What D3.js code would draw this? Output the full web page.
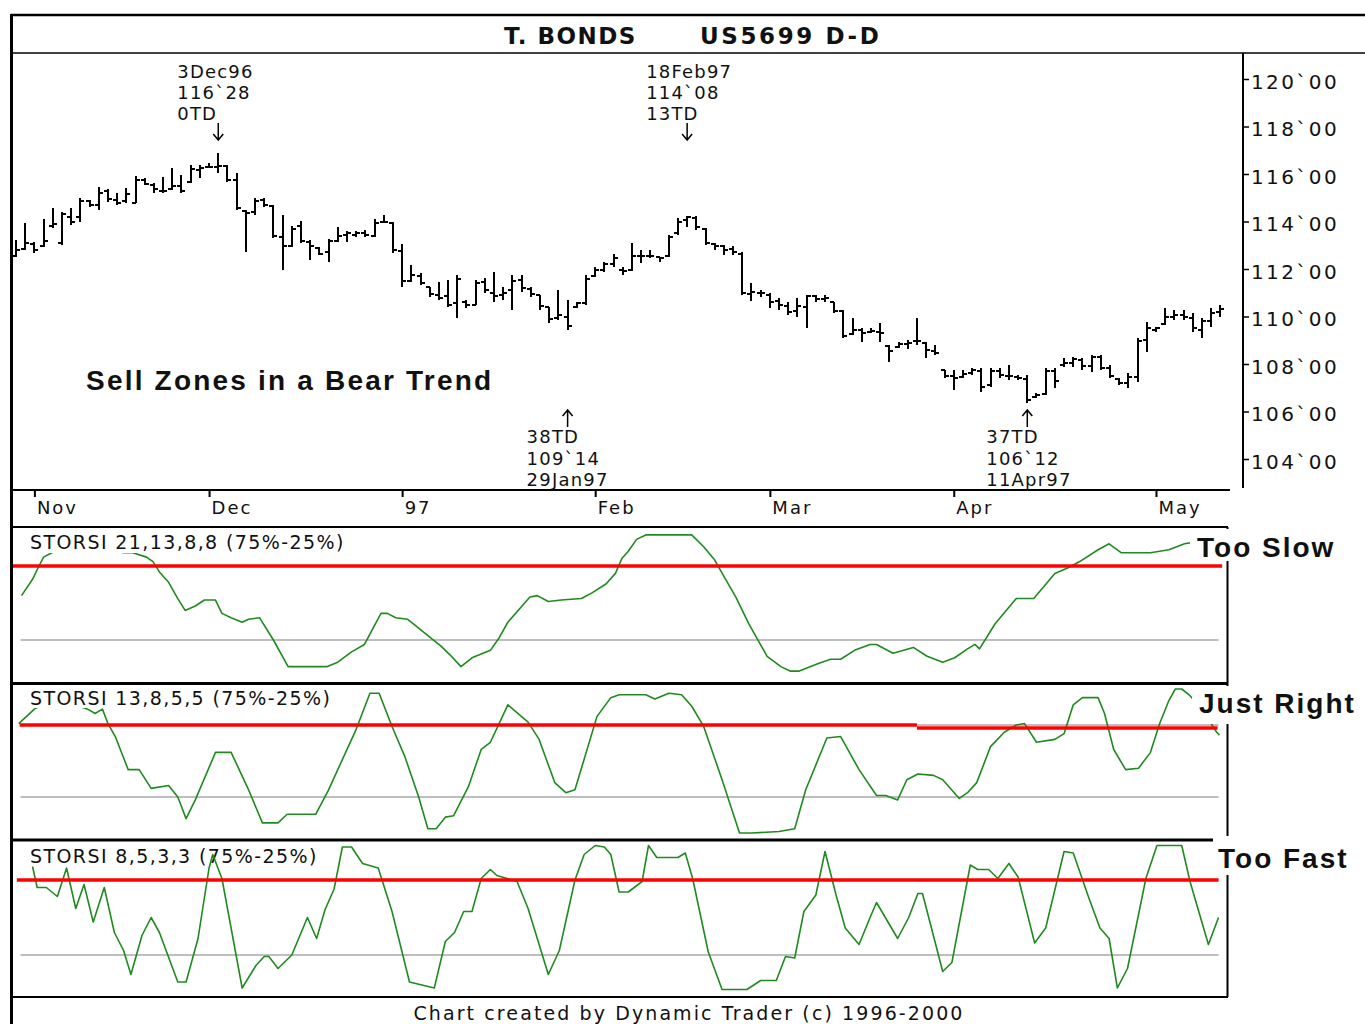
<!DOCTYPE html>
<html><head><meta charset="utf-8">
<script src="https://cdn.jsdelivr.net/npm/d3@7"></script>
<style>body{margin:0;background:#fff}svg{display:block}</style>
</head><body>
<svg id="c" width="1365" height="1024"></svg>
<script>
// ---------- DATA ----------
const barOpen  = [112.55,112.85,113.05,112.95,113.80,113.10,114.20,114.20,114.85,114.70,115.30,114.90,114.85,114.80,115.75,115.55,115.30,115.35,115.50,115.65,116.15,116.30,116.30,116.35,115.75,114.45,114.40,114.90,114.65,113.35,112.95,113.80,113.15,112.90,112.70,113.20,113.45,113.45,113.50,113.40,114.00,113.95,112.75,111.50,111.70,111.25,110.90,110.85,110.55,110.60,110.50,111.45,111.00,110.90,111.10,111.55,111.15,110.90,110.40,109.95,110.00,110.40,110.55,111.70,111.95,112.20,111.95,111.95,112.55,112.55,112.50,112.55,113.50,114.05,114.15,113.70,113.05,112.95,112.85,112.65,110.95,111.00,110.90,110.65,110.45,110.25,110.40,110.85,110.75,110.60,110.25,109.25,109.45,109.35,109.35,108.75,108.70,108.85,108.95,108.90,108.55,107.75,107.50,107.45,107.62,107.70,107.10,107.70,107.50,107.45,107.35,106.60,106.75,107.70,107.95,108.05,108.15,107.90,108.30,107.85,107.35,107.20,107.45,109.00,109.45,109.70,110.00,110.05,109.95,109.45,109.80,110.20];
const barHigh  = [113.22,113.95,113.15,114.09,114.55,114.41,114.55,114.97,114.90,115.47,115.35,115.18,115.40,115.91,115.82,115.61,115.89,116.24,115.96,116.38,116.38,116.45,116.875,116.38,116.05,114.48,114.97,114.97,114.69,114.27,113.81,114.03,113.22,112.94,113.25,113.75,113.61,113.60,113.64,114.09,114.27,113.99,113.05,112.17,111.82,111.25,111.46,111.54,111.75,110.69,111.54,111.61,111.89,111.25,111.75,111.75,111.25,110.90,110.41,111.11,110.69,110.62,111.75,112.10,112.31,112.62,112.10,113.08,112.80,112.80,112.52,113.43,114.13,114.25,114.22,113.71,113.08,113.01,112.98,112.73,111.40,111.12,110.98,110.77,110.63,110.77,110.91,110.91,110.91,110.63,110.27,109.92,109.50,109.50,109.71,108.80,108.94,109.01,109.92,108.94,108.80,107.75,107.75,107.75,107.85,107.82,107.82,107.85,107.96,107.54,107.54,106.77,107.82,107.82,108.24,108.31,108.24,108.38,108.38,107.96,107.40,107.61,109.08,109.78,109.57,110.34,110.27,110.27,110.13,109.92,110.34,110.48];
const barLow   = [112.52,112.80,112.66,112.94,113.71,113.01,113.85,113.99,114.62,114.48,114.83,114.69,114.76,114.76,115.54,115.18,115.18,115.33,115.21,115.61,115.82,116.24,116.03,115.68,114.48,112.73,114.27,114.62,113.29,111.96,112.94,113.08,112.38,112.59,112.31,113.15,113.15,113.35,113.36,113.36,113.92,112.66,111.25,111.46,111.32,110.83,110.69,110.41,109.92,110.34,110.48,110.97,110.62,110.69,110.27,111.04,110.83,110.27,109.71,109.85,109.44,110.34,110.48,111.68,111.89,112.10,111.75,111.92,112.24,112.45,112.31,112.52,113.43,113.78,113.64,113.01,112.80,112.59,112.59,110.90,110.65,110.84,110.34,110.27,110.06,109.99,109.50,110.63,110.63,110.13,109.08,109.22,108.94,109.29,108.94,108.10,108.66,108.63,108.80,108.24,108.38,107.40,106.91,107.40,107.55,106.84,107.05,107.43,107.33,107.33,106.375,106.55,106.70,106.98,107.89,107.89,107.75,107.68,107.75,107.40,107.12,106.98,107.26,108.52,109.36,109.64,109.85,109.85,109.36,109.08,109.57,109.99];
const barClose = [112.80,113.10,112.80,113.20,113.90,114.30,114.00,114.85,114.70,115.20,114.95,114.80,115.15,115.75,115.60,115.35,115.30,115.50,115.30,116.20,116.25,116.30,116.35,115.75,114.55,114.35,114.85,114.70,113.40,112.95,113.70,113.20,112.95,112.65,113.20,113.40,113.50,113.50,113.45,113.95,114.00,112.80,111.50,111.75,111.40,110.95,110.80,110.50,111.60,110.50,111.40,111.10,110.85,111.00,111.50,111.20,110.95,110.45,109.90,110.05,109.60,110.55,111.60,111.95,112.20,112.45,111.90,112.55,112.55,112.55,112.45,113.35,114.00,114.20,113.75,113.10,112.95,112.80,112.70,111.00,111.05,111.00,110.60,110.50,110.20,110.45,110.85,110.75,110.80,110.25,109.20,109.45,109.30,109.40,109.30,108.55,108.85,108.90,108.95,108.60,108.45,107.50,107.40,107.60,107.75,107.05,107.70,107.55,107.50,107.40,106.50,106.70,107.70,107.30,108.05,108.20,107.90,108.30,107.85,107.50,107.20,107.45,108.95,109.50,109.50,110.00,110.05,110.00,109.50,109.80,110.15,110.30];

const monthLabels = ["Nov","Dec","97","Feb","Mar","Apr","May"];
const monthBars   = [2,21,42,63,82,102,124];
const priceTicks  = [104,106,108,110,112,114,116,118,120];
const priceTickLabels = ["104`00","106`00","108`00","110`00","112`00","114`00","116`00","118`00","120`00"];

const pivotBars  = [22,73,60,110];
const pivotKinds = ["top","top","bottom","bottom"];
const pivotTexts = [["3Dec96","116`28","0TD"],["18Feb97","114`08","13TD"],["38TD","109`14","29Jan97"],["37TD","106`12","11Apr97"]];

// indicator series: [bar position, value %]
const storsiSlow = [[0.6,55],[1.8,66],[2.5,75],[3.0,81],[3.9,84],[6,90],[8.5,93],[10.5,88],[11.6,84],[12.7,84],[14.2,81],[14.9,78],[15.6,71],[16.6,64],[17.6,53],[18.4,45],[19.5,48],[20.5,52],[21.7,52],[22.4,43],[23.4,40],[24.6,37],[25.3,39],[26.5,40],[28.0,25],[29.6,7],[33.8,7],[35.0,10],[36.5,17],[37.9,22],[39.7,43],[40.4,43],[41.3,40],[42.6,39],[43.6,34],[44.8,28],[46.2,21],[47.2,15],[48.4,7],[49.6,13],[51.6,18],[52.5,26],[53.5,37],[54.9,47],[55.9,54],[56.7,55],[57.9,51],[59.3,52],[61.5,53],[62.7,57],[64.2,63],[65.2,70],[65.9,80],[66.6,85],[67.5,93],[68.5,96],[73.5,96],[74.8,88],[76.0,79],[77.0,68],[78.3,54],[79.7,36],[81.7,14],[83.2,7],[84.2,4],[85.2,4],[87.2,9],[88.6,12],[89.7,12],[91.2,18],[92.9,22],[93.6,22],[95.4,16],[97.6,20],[99.1,14],[100.8,10],[102.1,13],[103.5,19],[104.3,22],[104.8,19],[106.5,36],[108.8,53],[110.7,53],[113.0,70],[114.5,74],[115.7,78],[117.7,86],[118.9,90],[120.2,84],[123.4,84],[125.4,86],[127.1,90],[129,92],[131,93]];
const storsiMid = [[0.3,76],[2.0,86],[4,93],[6,90],[7.8,86],[8.6,83],[9.4,86],[10.0,76],[10.8,67],[12.2,44],[13.4,44],[14.7,31],[16.6,33],[17.6,25],[18.5,10],[19.5,23],[21.7,56],[23.4,56],[25.3,30],[26.8,7],[28.5,7],[29.5,13],[32.6,13],[34.0,30],[37.0,72],[38.5,97],[39.5,97],[40.9,74],[42.3,53],[43.8,25],[44.8,3],[45.7,3],[46.7,11],[47.6,12],[49.2,32],[50.6,58],[51.6,63],[53.5,89],[55.7,77],[56.9,65],[58.6,35],[59.8,28],[60.8,30],[63.2,81],[64.7,94],[65.6,96],[68.5,96],[69.5,93],[71.0,97],[72.4,96],[73.5,88],[74.8,74],[76.8,37],[78.7,0],[80.0,0],[83.0,1],[84.7,3],[85.9,30],[88.2,66],[89.7,67],[91.7,44],[93.6,26],[94.6,26],[95.9,23],[96.9,37],[98.1,41],[99.8,40],[100.8,37],[102.6,24],[103.5,28],[104.5,35],[106.0,60],[107.5,70],[108.8,75],[109.7,76],[111.0,63],[113.0,65],[114.0,69],[115.0,89],[116.0,94],[117.7,94],[118.4,83],[119.4,58],[120.7,44],[122.1,45],[123.4,56],[124.4,76],[125.4,92],[126.1,100],[126.8,100],[127.6,96],[129,86],[130.6,70],[130.9,68]];
const storsiFast = [[1.8,84],[2.3,70],[3.3,70],[4.5,64],[5.5,83],[6.5,56],[7.4,72],[8.4,47],[9.6,70],[10.7,40],[11.7,28],[12.5,12],[13.7,38],[14.7,50],[15.6,40],[17.6,7],[18.5,7],[19.8,36],[21.0,83],[21.4,92],[21.9,84],[22.4,76],[24.6,3],[26.1,18],[27.0,24],[27.5,24],[28.5,16],[30.0,25],[31.7,50],[32.7,36],[33.6,55],[34.6,69],[35.5,97],[36.5,97],[37.7,86],[39.4,83],[40.9,54],[42.8,7],[45.5,3],[46.7,34],[47.7,40],[48.7,54],[49.6,54],[50.6,76],[51.6,82],[52.3,78],[54.5,74],[55.7,56],[57.9,12],[59.1,28],[60.8,75],[61.8,92],[63.0,98],[64.0,97],[64.7,92],[65.6,67],[66.6,67],[68.1,74],[68.8,98],[69.7,90],[72.0,90],[72.8,93],[73.6,76],[75.3,27],[76.8,2],[79.5,2],[81.0,8],[82.7,8],[83.7,24],[84.7,23],[85.7,54],[87.0,65],[88.0,94],[89.2,65],[90.2,43],[91.7,32],[92.9,50],[93.6,60],[95.9,36],[97.1,50],[98.1,66],[98.6,66],[100.8,14],[101.8,20],[103.8,85],[104.6,82],[105.8,82],[106.8,76],[108.0,86],[109.0,77],[110.8,33],[112.0,43],[114.0,94],[115.0,93],[116.7,63],[117.9,43],[118.9,36],[119.8,3],[120.9,16],[122.9,76],[124.1,98],[126.8,98],[127.7,74],[129.7,32],[130.8,50]];
const storsiNames = ["STORSI 21,13,8,8 (75%-25%)","STORSI 13,8,5,5 (75%-25%)","STORSI 8,5,3,3 (75%-25%)"];
const verdicts = ["Too Slow","Just Right","Too Fast"];
// hand-drawn red zone lines per panel: [from bar, to bar, level]
const redLines = [[[-0.5,131.2,75]],[[0.4,98.0,75],[98.0,130.7,73]],[[0.1,130.8,75]]];
const guideLevels = [75,25];

// ---------- DRAWING ----------
const svg = d3.select("#c");
const SANS = "'DejaVu Sans', Verdana, sans-serif";
const BOLD = "'Liberation Sans', Arial, sans-serif";
const x = d3.scaleLinear().domain([0,124]).range([16,1156]);
const yP = d3.scaleLinear().domain([104,120]).range([459,79]);

function hline(x1,x2,y,w,c){svg.append("line").attr("x1",x1).attr("x2",x2).attr("y1",y).attr("y2",y).attr("stroke",c||"#000").attr("stroke-width",w);}
function vline(xx,y1,y2,w,c){svg.append("line").attr("x1",xx).attr("x2",xx).attr("y1",y1).attr("y2",y2).attr("stroke",c||"#000").attr("stroke-width",w);}

// title band
hline(11,1365,15,2.5); hline(11,1365,53,1.5);
svg.append("text").attr("x",504).attr("y",44).attr("font-family",SANS).attr("font-weight","bold").attr("font-size",23).attr("letter-spacing",1.5).attr("fill","#111").text("T. BONDS");
svg.append("text").attr("x",700).attr("y",44).attr("font-family",SANS).attr("font-weight","bold").attr("font-size",23).attr("letter-spacing",2.6).attr("fill","#111").text("US5699 D-D");

// price bars
const bars = svg.append("g").attr("stroke","#000").attr("stroke-width",2).attr("fill","none").attr("shape-rendering","crispEdges");
bars.selectAll("path").data(d3.range(barOpen.length)).join("path")
  .attr("d", i => {
    const cx = Math.round(x(i));
    return `M${cx},${yP(barHigh[i])}V${yP(barLow[i])}M${cx-4},${yP(barOpen[i])}H${cx}M${cx},${yP(barClose[i])}H${cx+4}`;
  });

// right price axis
const ay = svg.append("g").attr("transform","translate(1243,0)")
  .call(d3.axisRight(yP).tickValues(priceTicks).tickFormat((d,i)=>priceTickLabels[i]).tickSize(6));
ay.select(".domain").remove();
ay.selectAll("line").attr("stroke","#000").attr("stroke-width",1.5);
ay.selectAll("text").attr("x",8).attr("dy","0.45em").attr("font-family",SANS).attr("font-size",20).attr("letter-spacing",2.4).attr("fill","#111");
vline(1243,53,488,2);

// time axis
const ax = svg.append("g").attr("transform","translate(0,490)")
  .call(d3.axisBottom(x).tickValues(monthBars).tickFormat((d,i)=>monthLabels[i]).tickSize(7));
ax.select(".domain").remove();
ax.selectAll("line").attr("stroke","#000").attr("stroke-width",2);
ax.selectAll("text").attr("text-anchor","start").attr("x",2).attr("y",11).attr("font-family",SANS).attr("font-size",18).attr("letter-spacing",2).attr("fill","#111");
hline(11,1230,490,2);

// pivot annotations
pivotBars.forEach((b,k) => {
  const cx = x(b);
  const g = svg.append("g");
  const t = pivotTexts[k];
  if (pivotKinds[k] === "top") {
    [78,99,120].forEach((yy,j)=> g.append("text").attr("x",cx-41).attr("y",yy).text(t[j]));
    g.append("path").attr("d",`M${cx},123V140M${cx-5},134L${cx},140L${cx+5},134`);
  } else {
    [443,465,486].forEach((yy,j)=> g.append("text").attr("x",cx-41).attr("y",yy).text(t[j]));
    g.append("path").attr("d",`M${cx},427V410M${cx-5},416L${cx},410L${cx+5},416`);
  }
  g.selectAll("text").attr("font-family",SANS).attr("font-size",18).attr("letter-spacing",1.2).attr("fill","#111");
  g.select("path").attr("stroke","#000").attr("stroke-width",1.5).attr("fill","none");
});

svg.append("text").attr("x",86).attr("y",390).attr("font-family",BOLD).attr("font-weight","bold").attr("font-size",28).attr("letter-spacing",2.2).attr("fill","#111").text("Sell Zones in a Bear Trend");

// indicator panels
const panels = [
  {data:storsiSlow, y:d3.scaleLinear().domain([0,100]).range([677,529]), labelY:549, box:[27,530,321,23], lineOnTop:false,
   tagBox:[1190,529,175,32], tagX:1197, tagY:557},
  {data:storsiMid, y:d3.scaleLinear().domain([0,100]).range([833,689]), labelY:705, box:[27,687,308,21], lineOnTop:false,
   tagBox:[1192,686,173,38], tagX:1199, tagY:713},
  {data:storsiFast, y:d3.scaleLinear().domain([0,100]).range([992.5,842.5]), labelY:863, box:null, lineOnTop:true,
   tagBox:[1213,836,152,39], tagX:1218, tagY:868}
];

// panel frames
hline(11,1228,527,2);
hline(11,1228,683.5,3);
hline(11,1228,840,3);
hline(11,1228,997,2);
vline(1227.5,527,997,2);

const lineGen = d3.line().x(d=>x(d[0]));
panels.forEach((p,k) => {
  const g = svg.append("g");
  guideLevels.forEach(l => g.append("line").attr("x1",x(0.5)).attr("x2",x(130.8)).attr("y1",p.y(l)).attr("y2",p.y(l)).attr("stroke","#a8a8a8").attr("stroke-width",1.5));
  const drawLine = () => g.append("path").datum(p.data).attr("d", lineGen.y(d=>p.y(d[1])))
      .attr("fill","none").attr("stroke","#1f8a1f").attr("stroke-width",1.6).attr("stroke-linejoin","round");
  const drawLabel = () => {
    if (p.box) g.append("rect").attr("x",p.box[0]).attr("y",p.box[1]).attr("width",p.box[2]).attr("height",p.box[3]).attr("fill","#fff");
    g.append("text").attr("x",30).attr("y",p.labelY).attr("font-family",SANS).attr("font-size",19).attr("letter-spacing",1.4).attr("fill","#111").text(storsiNames[k]);
  };
  if (p.lineOnTop) { drawLabel(); drawLine(); } else { drawLine(); }
  redLines[k].forEach(r => g.append("line").attr("x1",x(r[0])).attr("x2",x(r[1])).attr("y1",p.y(r[2])).attr("y2",p.y(r[2])).attr("stroke","#ff0000").attr("stroke-width",3.5));
  if (!p.lineOnTop) drawLabel();
  g.append("rect").attr("x",p.tagBox[0]).attr("y",p.tagBox[1]).attr("width",p.tagBox[2]).attr("height",p.tagBox[3]).attr("fill","#fff");
  g.append("text").attr("x",p.tagX).attr("y",p.tagY).attr("font-family",BOLD).attr("font-weight","bold").attr("font-size",28).attr("letter-spacing",2.0).attr("fill","#111").text(verdicts[k]);
});

// left border (on top)
vline(11.5,14,1024,3);

// footer
svg.append("text").attr("x",689).attr("y",1020).attr("text-anchor","middle").attr("font-family",SANS).attr("font-size",19).attr("letter-spacing",2.1).attr("fill","#111").text("Chart created by Dynamic Trader (c) 1996-2000");
</script>
</body></html>
